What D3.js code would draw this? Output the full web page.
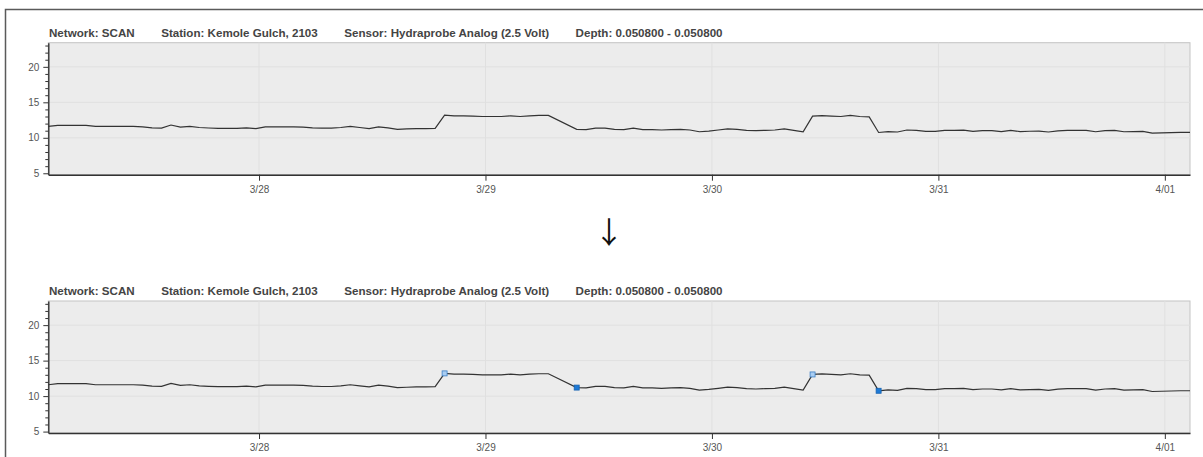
<!DOCTYPE html>
<html lang="en">
	<head>
		<meta charset="UTF-8">
		<title>Kemole Gulch soil temperature</title>
		<script src="https://d3js.org/d3.v7.min.js"></script>
		<style>
			body { margin: 0; background: #fff; }
			text { font-family: "Liberation Sans", Arial, sans-serif; }
		</style>
	</head>
	<body>
		<script>
			// hourly readings, first one at 3/27 01:40; null = no reading that hour
			var startTime = new Date(2021, 2, 27, 1, 40);
			var values = [
				11.6, 11.75, 11.75, 11.75, 11.75, 11.6, 11.6, 11.6, 11.6, 11.6,
				11.55, 11.4, 11.37, 11.8, 11.5, 11.6, 11.45, 11.38, 11.33, 11.33,
				11.33, 11.4, 11.3, 11.55, 11.55, 11.55, 11.55, 11.5, 11.4, 11.35,
				11.35, 11.45, 11.6, 11.45, 11.3, 11.55, 11.4, 11.2, 11.25, 11.3,
				11.3, 11.33, 13.2, 13.1, 13.1, 13.05, 13.0, 13.0, 13.0, 13.1,
				13.0, 13.1, 13.15, 13.15, null, null, 11.2, 11.15, 11.37, 11.37,
				11.2, 11.15, 11.37, 11.15, 11.15, 11.1, 11.15, 11.2, 11.1, 10.85,
				10.95, 11.1, 11.25, 11.2, 11.05, 11.0, 11.05, 11.1, 11.25, 11.05,
				10.85, 13.05, 13.12, 13.05, 13.0, 13.15, 13.0, 12.95, 10.75, 10.88,
				10.82, 11.1, 11.05, 10.9, 10.9, 11.05, 11.05, 11.08, 10.9, 11.0,
				11.0, 10.88, 11.05, 10.88, 10.92, 10.95, 10.82, 10.98, 11.05, 11.05,
				11.05, 10.85, 11.0, 11.05, 10.85, 10.88, 10.9, 10.65, 10.68, 10.72,
				10.75, 10.75
			];
			// index of the reading where each shift starts / ends
			var shiftStarts = [42, 81];
			var shiftEnds = [56, 88];

			var titleParts = ['Network: SCAN', 'Station: Kemole Gulch, 2103',
				'Sensor: Hydraprobe Analog (2.5 Volt)', 'Depth: 0.050800 - 0.050800'];
			var yTicks = [5, 10, 15, 20];
			var yMinorTicks = d3.range(5, 24).filter(function(d) { return d % 5 !== 0; });

			var width = 1203, height = 457;
			var plotLeft = 48.3, plotRight = 1190, plotTop = 42.7, plotBottom = 174.7;
			var panelShift = 258.3;

			var data = values.map(function(v, i) {
				return { t: d3.timeHour.offset(startTime, i), v: v, i: i };
			}).filter(function(d) { return d.v !== null; });

			var x = d3.scaleTime()
						.domain([data[0].t, data[data.length - 1].t])
						.range([plotLeft, plotRight]);
			var y = d3.scaleLinear()
						.domain([4.8, 23.4])
						.range([plotBottom, plotTop]);

			var svg = d3.select('body')
						.append('svg')
						.attr('width', width)
						.attr('height', height);

			// outer frame, runs past the window on the right and bottom
			svg.append('rect')
				.attr('x', 5.5).attr('y', 9.5)
				.attr('width', 1400).attr('height', 600)
				.attr('fill', 'none')
				.attr('stroke', '#5a5a5a')
				.attr('stroke-width', 1.5);

			var line = d3.line()
						.x(function(d) { return x(d.t); })
						.y(function(d) { return y(d.v); });

			function drawPanel(dy, withMarkers) {
				var g = svg.append('g').attr('transform', 'translate(0,' + dy + ')');

				// title pieces laid out left to right with a fixed gap
				var tx = 49;
				titleParts.forEach(function(s) {
					var t = g.append('text')
								.attr('x', tx).attr('y', 37)
								.attr('font-size', 11.6)
								.attr('font-weight', 'bold')
								.attr('fill', '#444')
								.text(s);
					tx += t.node().getComputedTextLength() + 26.5;
				});

				g.append('rect')
					.attr('x', plotLeft).attr('y', plotTop)
					.attr('width', plotRight - plotLeft).attr('height', plotBottom - plotTop)
					.attr('fill', '#ececec')
					.attr('stroke', '#c4c4c4');

				// grid
				g.selectAll('.hgrid')
					.data(yTicks.slice(1))
					.enter()
						.append('line')
						.attr('x1', plotLeft).attr('x2', plotRight)
						.attr('y1', function(d) { return y(d); })
						.attr('y2', function(d) { return y(d); })
						.attr('stroke', '#e0e0e0');
				g.selectAll('.vgrid')
					.data(x.ticks(d3.timeDay.every(1)))
					.enter()
						.append('line')
						.attr('y1', plotTop).attr('y2', plotBottom)
						.attr('x1', function(d) { return x(d); })
						.attr('x2', function(d) { return x(d); })
						.attr('stroke', '#e0e0e0');

				g.append('path')
					.datum(data)
					.attr('d', line)
					.attr('fill', 'none')
					.attr('stroke', '#333')
					.attr('stroke-width', 1.2);

				// axes
				g.append('g')
					.attr('transform', 'translate(' + plotLeft + ',0)')
					.call(d3.axisLeft(y).tickValues(yTicks).tickSize(5).tickSizeOuter(0).tickPadding(4));
				g.append('g')
					.attr('transform', 'translate(' + plotLeft + ',0)')
					.call(d3.axisLeft(y).tickValues(yMinorTicks).tickSize(3).tickSizeOuter(0).tickFormat(''))
					.select('.domain').remove();
				g.append('g')
					.attr('transform', 'translate(0,' + plotBottom + ')')
					.call(d3.axisBottom(x).ticks(d3.timeDay.every(1))
						.tickFormat(d3.timeFormat('%-m/%d'))
						.tickSize(6).tickSizeOuter(0).tickPadding(5));

				g.selectAll('.domain').attr('stroke', '#333').attr('stroke-width', 1.4);
				g.selectAll('.tick line').attr('stroke', '#333');
				g.selectAll('.tick text')
					.attr('font-size', 10)
					.attr('fill', '#555');

				if (withMarkers) {
					var byIndex = {};
					data.forEach(function(d) { byIndex[d.i] = d; });
					g.selectAll('.start')
						.data(shiftStarts.map(function(i) { return byIndex[i]; }))
						.enter()
							.append('rect')
							.attr('x', function(d) { return x(d.t) - 2.5; })
							.attr('y', function(d) { return y(d.v) - 2.5; })
							.attr('width', 5).attr('height', 5)
							.attr('fill', '#a9cdf2')
							.attr('stroke', '#3d7fc4')
							.attr('stroke-width', 0.8);
					g.selectAll('.end')
						.data(shiftEnds.map(function(i) { return byIndex[i]; }))
						.enter()
							.append('rect')
							.attr('x', function(d) { return x(d.t) - 2.5; })
							.attr('y', function(d) { return y(d.v) - 2.5; })
							.attr('width', 5).attr('height', 5)
							.attr('fill', '#1e7ad6')
							.attr('stroke', '#1763b0')
							.attr('stroke-width', 0.8);
				}
			}

			drawPanel(0, false);
			drawPanel(panelShift, true);

			// the css rule for text wins over attributes, so the arrow font goes in style
			svg.append('text')
				.attr('x', 609).attr('y', 243)
				.attr('text-anchor', 'middle')
				.style('font-family', '"Noto Sans CJK JP", sans-serif')
				.style('font-size', '30px')
				.attr('fill', '#111')
				.text('↓');
		</script>
	</body>
</html>
